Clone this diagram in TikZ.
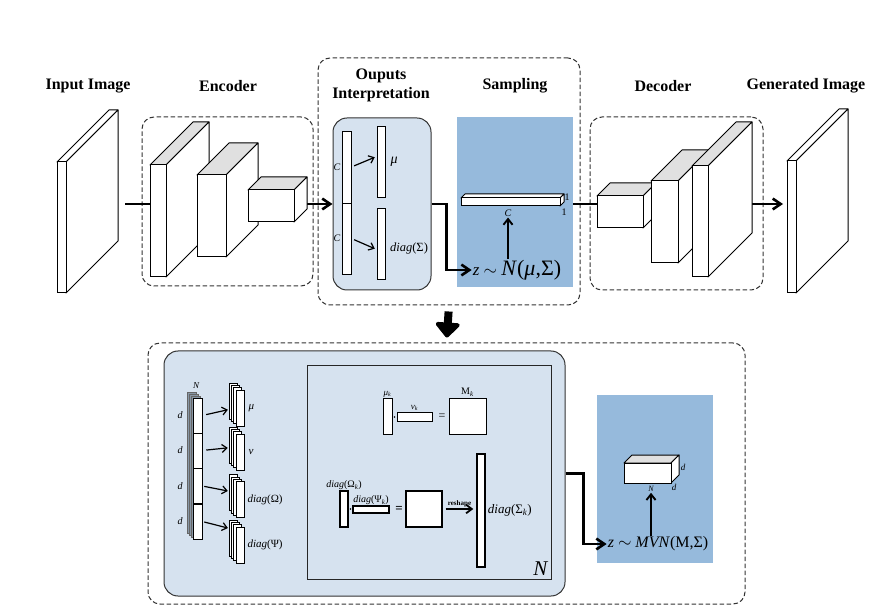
\documentclass[tikz,border=0pt]{standalone}
\usepackage{fontspec}
\setmainfont{Liberation Serif}
\usepackage{tikz}
\usetikzlibrary{positioning,arrows.meta}
\usepackage{xcolor}
\definecolor{paleblue}{RGB}{214,226,239}
\definecolor{midblue}{RGB}{150,186,220}
\definecolor{topgray}{RGB}{224,224,224}
\definecolor{stackgray}{RGB}{135,150,165}

\newcommand{\cnnblock}[6]{%
  \filldraw[fill=#6,line width=1pt,line join=round] (#1,#2) -- ++(#5,-#5) -- ++(#3,0) -- ++(-#5,#5) -- cycle;
  \filldraw[fill=white,line width=1pt,line join=round] (#1+#3,#2) -- ++(#5,-#5) -- ++(0,#4) -- ++(-#5,#5) -- cycle;
  \filldraw[fill=white,line width=1pt] (#1,#2) rectangle ++(#3,#4);
}

\begin{document}
\begin{tikzpicture}[x=1pt,y=-1pt,>={Straight Barb[length=2.8mm,width=3.8mm]},
  title/.style={font=\fontsize{16}{19}\selectfont\bfseries,align=center,inner sep=0pt},
  frame/.style={draw=black!80,dash pattern=on 4.5pt off 2.5pt,line width=1pt,rounded corners=12pt,inner sep=0pt},
  pbox/.style={draw=black!80,fill=paleblue,line width=1pt,rounded corners=14pt,inner sep=0pt},
  sbox/.style={fill=midblue,inner sep=0pt},
  nbox/.style={draw=black!85,fill=paleblue,line width=1pt,inner sep=0pt},
  conn/.style={line width=2.6pt},
  bar/.style={draw,fill=white,line width=0.8pt,inner sep=0pt},
  bbar/.style={draw,fill=white,line width=1.4pt,inner sep=0pt},
  arr/.style={line width=1.2pt,-{Straight Barb[length=1.7mm,width=2.8mm]},shorten <=3pt,shorten >=2pt},
  uparr/.style={line width=1.9pt,-{Straight Barb[length=2mm,width=3.2mm]},shorten >=1pt},
  lab/.style={inner sep=0pt,font=\fontsize{#1}{#1}\selectfont\itshape},
  lab/.default=10]
\useasboundingbox (0,0) rectangle (883,609);

\node[title] (tin) at (88,86) {Input Image};
\node[title] (tenc) at (228,86) {Encoder};
\node[title] (tout) at (381,85) {Ouputs\\Interpretation};
\node[title] (tsam) at (515,86) {Sampling};
\node[title] (tdec) at (663,86) {Decoder};
\node[title] (tgen) at (806,86) {Generated Image};

\node[frame,minimum width=171,minimum height=169] (enc) at (227.5,201.5) {};
\node[frame,minimum width=262,minimum height=247] (top) at (449,181.5) {};
\node[frame,minimum width=173,minimum height=173] (dec) at (676.5,203.5) {};
\node[frame,minimum width=597,minimum height=261] (bot) at (446.5,473.5) {};
\node[pbox,minimum width=98,minimum height=172] (interp) at (382,204) {};
\node[sbox,minimum width=116,minimum height=170] (samp) at (515,202) {};

\coordinate (inR) at (125,204);
\coordinate (encL) at (150,204);
\coordinate (encR) at (304,204);
\coordinate (decL) at (597,204);
\coordinate (decR) at (752,204);
\coordinate (genL) at (783,204);
\draw[conn] (inR) -- (encL);
\draw[conn,->] (encR) -- (interp.west);
\draw[conn] (samp.east |- decL) -- (decL);
\draw[conn,->] (decR) -- (genL);

\cnnblock{57}{162}{9}{131}{52}{white}
\cnnblock{150}{165}{16}{112}{43}{topgray}
\cnnblock{197}{175}{29}{82}{32}{topgray}
\cnnblock{248}{190}{46}{32}{13}{topgray}
\cnnblock{597}{196}{46}{32}{13}{topgray}
\cnnblock{651}{181}{27}{82}{31}{topgray}
\cnnblock{692}{166}{16}{111}{44}{topgray}
\cnnblock{787}{161}{9}{132}{52}{white}

\node[bar,minimum width=9,minimum height=72] (c1) at (346.5,167) {};
\node[bar,minimum width=9,minimum height=71] (c2) at (346.5,238.5) {};
\node[bar,minimum width=8,minimum height=71] (mu) at (381,161.5) {};
\node[bar,minimum width=8,minimum height=71] (sg) at (381,243.5) {};
\node[lab=10,left=1pt of c1] (lc1) {C};
\node[lab=10,left=1pt of c2] (lc2) {C};
\node[lab=14,right=5pt of mu] (lmu) {μ};
\node[lab=12.5] (lsg) at (409,248) {diag\textup{(Σ)}};
\draw[arr] (c1.east) -- ([yshift=5pt]mu.west);
\draw[arr] (c2.east) -- ([yshift=-6pt]sg.west);

\cnnblock{461}{198}{99}{8}{4}{white}
\node[font=\fontsize{10}{10}\selectfont,inner sep=0pt] (one1) at (567,197) {1};
\node[font=\fontsize{10}{10}\selectfont,inner sep=0pt] (one2) at (564,212) {1};
\node[lab=10] (clab) at (508,213) {C};
\node[inner sep=1pt] (zN) at (517,270) {{\fontsize{17}{17}\selectfont\textit{z} $\sim$ }{\fontsize{22}{22}\selectfont\textit{N}(\textit{μ},Σ)}};
\draw[uparr] (clab.south |- zN.north) -- (clab.south);
\draw[conn,->] (interp.east) -- ++(15,0) |- (zN.west);

\draw[line width=8pt,-{Triangle[length=16pt,width=28pt,round]},shorten <=6pt,shorten >=5pt] (top.south) -- (bot.north);

\node[pbox,minimum width=401,minimum height=245] (mix) at (364.5,473.5) {};
\node[nbox,minimum width=244,minimum height=214] (comp) at (429,472) {};
\node[sbox,minimum width=116,minimum height=168] (mvn) at (655,479) {};

\foreach \i in {3,2,1}
  \filldraw[fill=stackgray,draw=black!60,line width=0.5pt] (193-2*\i,398-2*\i) rectangle ++(9,141);
\foreach \yy/\nm in {415.5/p1,450.5/p2,486/p3,521.5/p4}
  \node[bar,minimum width=9,minimum height=35,line width=0.6pt] (\nm) at (197.5,\yy) {};
\node[lab=9] (lN) at (196,386) {N};
\foreach \nm in {p1,p2,p3,p4}
  \node[lab=10,left=10pt of \nm] {d};

\foreach \yy/\nm in {408/smu,452/snu,499.5/som,545/sps}{
  \foreach \i in {3,2,1}
    \filldraw[fill=white,line width=0.7pt] (236-2.3*\i,\yy-18-2.3*\i) rectangle ++(8,36);
  \node[bar,minimum width=8,minimum height=36,line width=0.7pt] (\nm) at (240,\yy) {};
}
\node[lab=11,right=4pt of smu] (lsmu) {μ};
\node[lab=11,right=4pt of snu] (lsnu) {ν};
\node[lab=11,right=3pt of som] (lsom) {diag\textup{(Ω)}};
\node[lab=11,right=3pt of sps] (lsps) {diag\textup{(Ψ)}};
\draw[arr,shorten <=4pt,shorten >=8pt] (p1.east) -- ([yshift=0pt]smu.west);
\draw[arr,shorten <=4pt,shorten >=8pt] (p2.east) -- ([yshift=5pt]snu.west);
\draw[arr,shorten <=2pt,shorten >=8pt] (p3.east) -- ([yshift=7pt]som.west);
\draw[arr,shorten <=2pt,shorten >=8pt] (p4.east) -- ([yshift=15pt]sps.west);

\node[bar,minimum width=9,minimum height=36] (muk) at (387.5,416) {};
\node[bar,minimum width=35,minimum height=9] (nuk) at (414.5,416.5) {};
\node[lab=9,above=0pt of muk] (lmuk) {μ\textsubscript{k}};
\node[lab=9,above=1pt of nuk] (lnuk) {ν\textsubscript{k}};
\node[circle,fill,inner sep=0.6pt] (dt1) at (394.5,417) {};
\node[font=\fontsize{12}{12}\selectfont,inner sep=0pt] (eq1) at (442,417) {=};
\node[bar,minimum width=37,minimum height=36] (mk) at (467.5,416) {};
\node[font=\fontsize{10}{10}\selectfont,inner sep=0pt,above=1pt of mk] (lmk) {M\textsubscript{\textit{k}}};

\node[bbar,minimum width=8,minimum height=36] (omk) at (344,509) {};
\node[lab=10,above=0pt of omk] (lomk) {diag\textup{(Ω}\textsubscript{k}\textup{)}};
\node[circle,fill,inner sep=0.6pt] (dt2) at (350.5,509) {};
\node[bbar,minimum width=36,minimum height=7] (psk) at (371,509.5) {};
\node[lab=10,above=0pt of psk] (lpsk) {diag\textup{(Ψ}\textsubscript{k}\textup{)}};
\node[font=\fontsize{13}{13}\selectfont\bfseries,inner sep=0pt] (eq2) at (399,509) {=};
\node[bbar,minimum width=36,minimum height=36] (sq) at (424,509) {};
\node[bbar,minimum width=8,minimum height=113] (sgk) at (481,510.5) {};
\draw[line width=1.8pt,-{Straight Barb[length=2mm,width=3mm]},shorten <=3pt,shorten >=3pt] (sq.east) -- node[above,font=\fontsize{7}{7}\selectfont\bfseries,inner sep=1.5pt] (lrs) {reshape} (sgk.west |- sq.east);
\node[lab=13,right=2pt of sgk] (lsgk) {diag\textup{(Σ}\textsubscript{k}\textup{)}};
\node[lab=21,anchor=south east] (lNc) at ([xshift=-4pt,yshift=4pt]comp.south east) {N};

\cnnblock{624}{463}{47}{20}{8}{topgray}
\node[lab=9] (ld1) at (683,467) {d};
\node[lab=9] (ld2) at (674,487) {d};
\node[lab=8] (nlab) at (651,489) {N};
\node[inner sep=1pt,font=\fontsize{16}{16}\selectfont] (mvz) at (658,544) {\textit{z} $\sim$ \textit{MVN}(M,Σ)};
\draw[uparr] (nlab.south |- mvz.north) -- (nlab.south);
\draw[conn,->] (mix.east) -- ++(18,0) |- (mvz.west);
\end{tikzpicture}
\end{document}
